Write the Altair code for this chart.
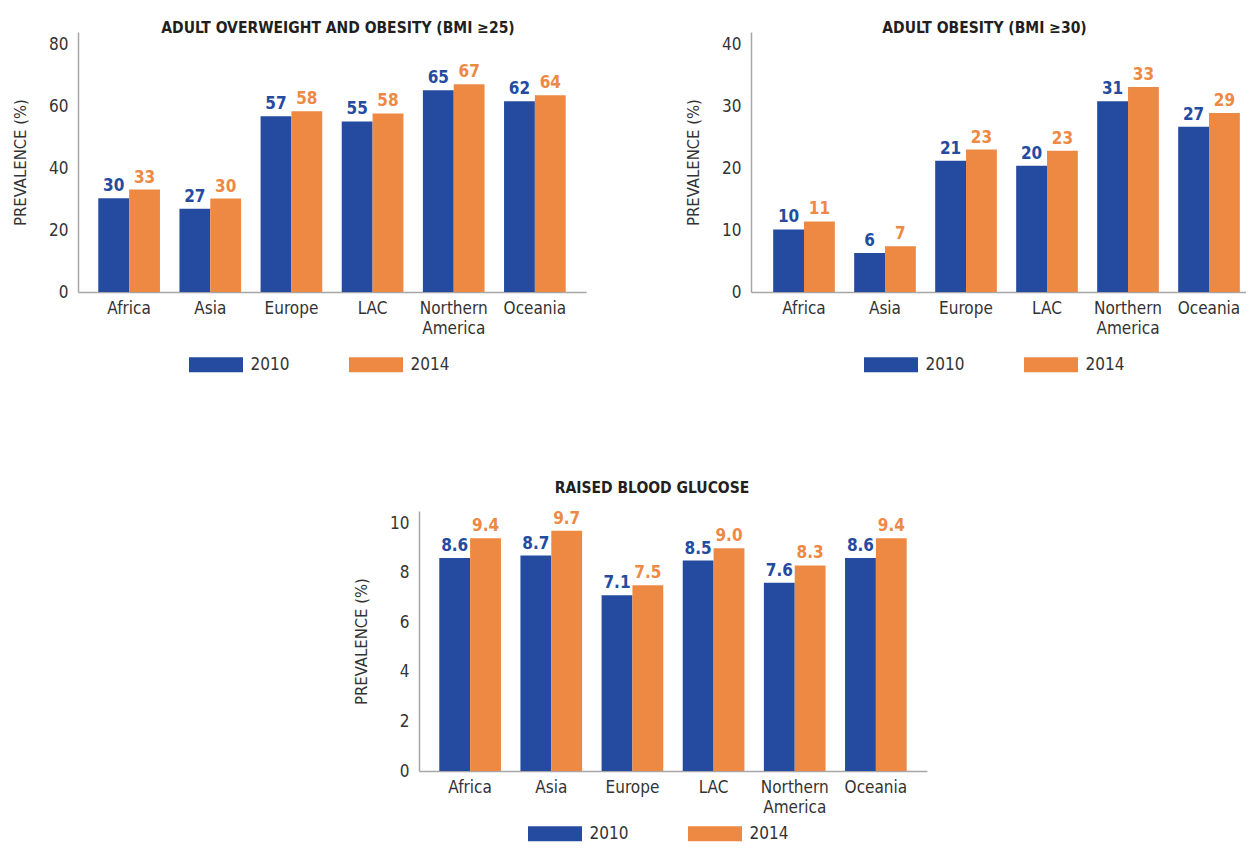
import altair as alt
import pandas as pd

regions = ["Africa", "Asia", "Europe", "LAC", "Northern America", "Oceania"]
years = ["2010", "2014"]

# Adult overweight and obesity (BMI >= 25), %
ow_2010 = [30.3, 26.9, 56.8, 55.1, 65.2, 61.6]
ow_2014 = [33.1, 30.2, 58.4, 57.7, 67.1, 63.6]
# Adult obesity (BMI >= 30), %
ob_2010 = [10.1, 6.3, 21.2, 20.4, 30.8, 26.7]
ob_2014 = [11.4, 7.4, 23.0, 22.8, 33.1, 28.9]
# Raised blood glucose, %
gl_2010 = [8.6, 8.7, 7.1, 8.5, 7.6, 8.6]
gl_2014 = [9.4, 9.7, 7.5, 9.0, 8.3, 9.4]

ticks_ow = [0, 20, 40, 60, 80]
ticks_ob = [0, 10, 20, 30, 40]
ticks_gl = [0, 2, 4, 6, 8, 10]

BLUE = "#244B9F"
ORANGE = "#EE8944"
TXT = "#333333"
FONT = "Liberation Sans Narrow, DejaVu Sans Condensed, Roboto Condensed, Roboto, sans-serif"


def frame(v10, v14):
    rows = []
    for r, a, b in zip(regions, v10, v14):
        rows.append({"region": r, "year": "2010", "value": a})
        rows.append({"region": r, "year": "2014", "value": b})
    return pd.DataFrame(rows)


def panel(df, title, ymax, ticks, fmt, title_dx, legend_x, legend_y=324,
          width=508, pad_outer=0.25, align=0.5, title_offset=-4):
    color = alt.Color(
        "year:N",
        scale=alt.Scale(domain=years, range=[BLUE, ORANGE]),
        legend=alt.Legend(
            title=None, orient="none", direction="horizontal",
            legendX=legend_x, legendY=legend_y,
            symbolType="M-3.6,-1L3.6,-1L3.6,1L-3.6,1Z", symbolSize=225,
            symbolStrokeWidth=0, symbolOpacity=1, symbolOffset=19.5,
            labelOffset=26, columnPadding=58,
            labelFont=FONT, labelFontSize=17, labelColor=TXT,
        ),
    )
    x = alt.X(
        "region:N", sort=regions, title=None,
        scale=alt.Scale(paddingInner=0.24, paddingOuter=pad_outer, align=align),
        axis=alt.Axis(
            labelAngle=0, labelFont=FONT, labelFontSize=17, labelColor=TXT,
            labelPadding=8, ticks=False, domainColor="#A6A6A6", domainWidth=1.5,
            labelLineHeight=20,
            labelExpr="datum.label == 'Northern America' ? ['Northern', 'America'] : datum.label",
        ),
    )
    y = alt.Y(
        "value:Q", title="PREVALENCE (%)",
        scale=alt.Scale(domain=[0, ymax], nice=False, zero=True),
        axis=alt.Axis(
            values=ticks, grid=False, ticks=False, labelFont=FONT, labelFontSize=17,
            labelColor=TXT, labelPadding=10, domainColor="#A6A6A6", domainWidth=1.5,
            titleFont=FONT, titleFontSize=16.5, titleFontWeight="normal", titleColor=TXT,
            titlePadding=20,
        ),
    )
    base = alt.Chart(df).encode(
        x=x,
        xOffset=alt.XOffset("year:N", sort=years),
        y=y,
        color=color,
    )
    bars = base.mark_bar()
    labels = base.mark_text(
        baseline="alphabetic", dy=-7, font=FONT, fontSize=17, fontWeight="bold"
    ).encode(text=alt.Text("value:Q", format=fmt))
    return alt.layer(bars, labels).properties(
        width=width, height=260,
        title=alt.TitleParams(
            title, font=FONT, fontSize=15.5, fontWeight="bold", color="#231F20",
            anchor="middle", frame="group", dx=title_dx, offset=title_offset,
        ),
    )


p1 = panel(frame(ow_2010, ow_2014), "ADULT OVERWEIGHT AND OBESITY (BMI \u226525)",
           84, ticks_ow, ".0f", 6, 110)
p2 = panel(frame(ob_2010, ob_2014), "ADULT OBESITY (BMI \u226530)",
           42, ticks_ob, ".0f", -14, 112, width=495, pad_outer=0.1755, align=0.78)
p3 = panel(frame(gl_2010, gl_2014), "RAISED BLOOD GLUCOSE",
           10.5, ticks_gl, ".1f", -21, 108, legend_y=314, title_offset=13)

spacer = alt.Chart(pd.DataFrame({"s": [0]})).mark_point(opacity=0).encode(
    x=alt.value(0), y=alt.value(0)
).properties(width=341, height=10)

top = alt.hconcat(p1, p2, spacing=165, bounds="flush").resolve_scale(
    color="independent").resolve_legend(color="independent")
bottom = alt.hconcat(spacer, p3, spacing=0, bounds="flush").resolve_scale(
    color="independent").resolve_legend(color="independent")
chart = alt.vconcat(top, bottom, spacing=108).resolve_scale(
    color="independent").resolve_legend(color="independent").properties(
    padding={"top": 12, "left": 4, "right": 0, "bottom": 0}
).configure_view(stroke=None)

chart.save("out.html", embed_options={"renderer": "svg", "actions": False})
